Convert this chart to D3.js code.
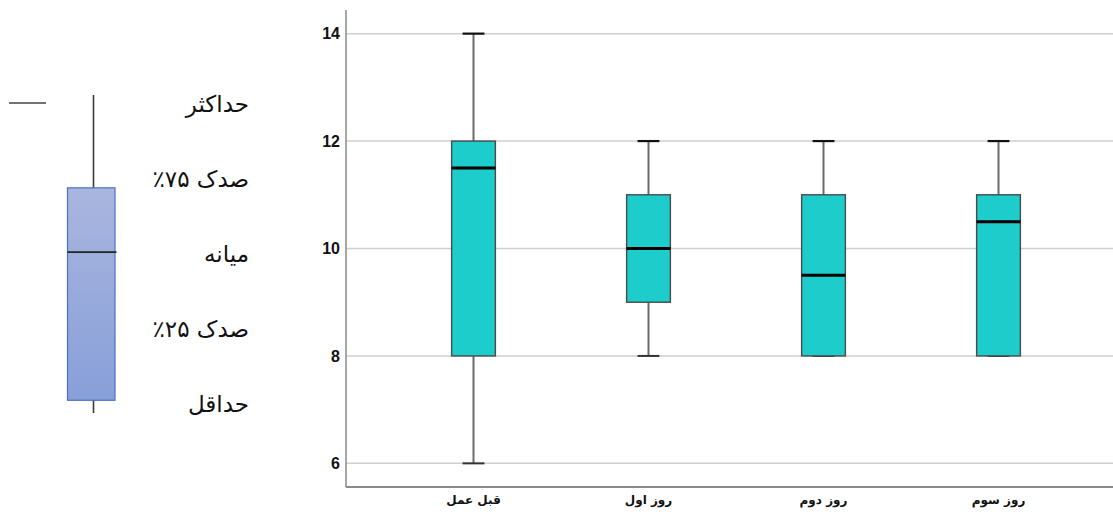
<!DOCTYPE html>
<html>
<head>
<meta charset="utf-8">
<script src="https://cdn.jsdelivr.net/npm/d3@7"></script>
<style>
  html, body { margin: 0; padding: 0; background: #fff; }
</style>
</head>
<body>
<svg id="chart" width="1113" height="512"></svg>
<script>
// data
const categories = ['قبل عمل', 'روز اول', 'روز دوم', 'روز سوم'];
const minValues = [6, 8, 8, 8];
const q1Values = [8, 9, 8, 8];
const medianValues = [11.5, 10, 9.5, 10.5];
const q3Values = [12, 11, 11, 11];
const maxValues = [14, 12, 12, 12];
const yTicks = [6, 8, 10, 12, 14];

// legend (schematic box, in its own 0-100 units)
const legendLabels = ['حداکثر', 'صدک ۷۵٪', 'میانه', 'صدک ۲۵٪', 'حداقل'];
const legendStats = { min: 0, q1: 4, median: 50.6, q3: 70.8, max: 100 };

const svg = d3.select('#chart');

// ---- legend ----
const defs = svg.append('defs');
const grad = defs.append('linearGradient').attr('id', 'legendFill')
  .attr('x1', 0).attr('y1', 0).attr('x2', 0).attr('y2', 1);
grad.append('stop').attr('offset', '0%').attr('stop-color', '#a9b6df');
grad.append('stop').attr('offset', '100%').attr('stop-color', '#889fd8');

const ly = d3.scaleLinear().domain([0, 100]).range([413, 95]);
const lx = 93.5;
const boxLeft = 67.5, boxRight = 115;
const legend = svg.append('g');

legend.append('line')
  .attr('x1', 9).attr('x2', 46).attr('y1', 103).attr('y2', 103)
  .attr('stroke', '#444').attr('stroke-width', 1.3);

legend.append('line')
  .attr('x1', lx).attr('x2', lx)
  .attr('y1', ly(legendStats.min)).attr('y2', ly(legendStats.max))
  .attr('stroke', '#3a3a3a').attr('stroke-width', 1.6);

legend.append('rect')
  .attr('x', boxLeft).attr('width', boxRight - boxLeft)
  .attr('y', ly(legendStats.q3))
  .attr('height', ly(legendStats.q1) - ly(legendStats.q3))
  .attr('fill', 'url(#legendFill)')
  .attr('stroke', '#4a70c8').attr('stroke-width', 1.2);

legend.append('line')
  .attr('x1', boxLeft).attr('x2', boxRight + 1.5)
  .attr('y1', ly(legendStats.median)).attr('y2', ly(legendStats.median))
  .attr('stroke', '#222').attr('stroke-width', 1.6);

const labelY = d3.scalePoint().domain(legendLabels).range([105, 405]);
legend.selectAll('text.leg')
  .data(legendLabels)
  .enter()
  .append('text')
  .attr('class', 'leg')
  .attr('x', 249)
  .attr('y', (d) => labelY(d))
  .attr('direction', 'rtl')
  .attr('text-anchor', 'start')
  .attr('dominant-baseline', 'middle')
  .attr('font-family', 'DejaVu Sans')
  .attr('font-size', 23)
  .attr('fill', '#111')
  .text((d) => d);

// ---- box plot ----
const plotLeft = 346, plotRight = 1113, plotTop = 10, plotBottom = 487;

const y = d3.scaleLinear().domain([5.56, 14.44]).range([plotBottom, plotTop]);
const x = d3.scaleBand().domain(categories).range([386, 1086])
  .paddingInner(0.75).paddingOuter(0.375);

const plot = svg.append('g');

// gridlines
plot.selectAll('line.grid')
  .data(yTicks)
  .enter()
  .append('line')
  .attr('class', 'grid')
  .attr('x1', plotLeft).attr('x2', plotRight)
  .attr('y1', (d) => y(d)).attr('y2', (d) => y(d))
  .attr('stroke', '#cfcfcf').attr('stroke-width', 1.5);

// axes
const yAxis = d3.axisLeft(y).tickValues(yTicks).tickSize(0).tickPadding(6);
const gy = plot.append('g').attr('transform', `translate(${plotLeft},0)`).call(yAxis);
gy.select('.domain').remove();
gy.selectAll('text')
  .attr('font-family', 'Liberation Sans, Arial, sans-serif')
  .attr('font-size', 16)
  .attr('font-weight', 'bold')
  .attr('fill', '#111');

plot.append('line')
  .attr('x1', plotLeft).attr('x2', plotLeft).attr('y1', plotTop).attr('y2', plotBottom)
  .attr('stroke', '#8a8a8a').attr('stroke-width', 1.5);
plot.append('line')
  .attr('x1', plotLeft).attr('x2', plotRight).attr('y1', plotBottom).attr('y2', plotBottom)
  .attr('stroke', '#8a8a8a').attr('stroke-width', 2);

const xAxis = d3.axisBottom(x).tickSize(0).tickPadding(8);
const gx = plot.append('g').attr('transform', `translate(0,${plotBottom})`).call(xAxis);
gx.select('.domain').remove();
gx.selectAll('text')
  .attr('font-family', 'DejaVu Sans, sans-serif')
  .attr('font-size', 12)
  .attr('font-weight', 'bold')
  .attr('fill', '#111');

const boxes = categories.map((c, i) => ({
  cat: c, min: minValues[i], q1: q1Values[i], median: medianValues[i],
  q3: q3Values[i], max: maxValues[i],
}));

const bw = x.bandwidth();
const g = plot.selectAll('g.box')
  .data(boxes)
  .enter()
  .append('g')
  .attr('class', 'box')
  .attr('transform', (d) => `translate(${x(d.cat)},0)`);

// whiskers
g.append('line')
  .attr('x1', bw / 2).attr('x2', bw / 2)
  .attr('y1', (d) => y(d.max)).attr('y2', (d) => y(d.q3))
  .attr('stroke', '#6a6a6a').attr('stroke-width', 2);
g.append('line')
  .attr('x1', bw / 2).attr('x2', bw / 2)
  .attr('y1', (d) => y(d.q1)).attr('y2', (d) => y(d.min))
  .attr('stroke', '#6a6a6a').attr('stroke-width', 2);

// caps
g.append('line')
  .attr('x1', bw / 4).attr('x2', (bw * 3) / 4)
  .attr('y1', (d) => y(d.max)).attr('y2', (d) => y(d.max))
  .attr('stroke', '#111').attr('stroke-width', 2.2);
g.append('line')
  .attr('x1', bw / 4).attr('x2', (bw * 3) / 4)
  .attr('y1', (d) => y(d.min)).attr('y2', (d) => y(d.min))
  .attr('stroke', '#333').attr('stroke-width', 2);

// box
g.append('rect')
  .attr('x', 0).attr('width', bw)
  .attr('y', (d) => y(d.q3))
  .attr('height', (d) => y(d.q1) - y(d.q3))
  .attr('fill', '#1ccdcc')
  .attr('stroke', '#4a4a4a').attr('stroke-width', 1.4);

// median
g.append('line')
  .attr('x1', 0).attr('x2', bw)
  .attr('y1', (d) => y(d.median)).attr('y2', (d) => y(d.median))
  .attr('stroke', '#000').attr('stroke-width', 3);
</script>
</body>
</html>
